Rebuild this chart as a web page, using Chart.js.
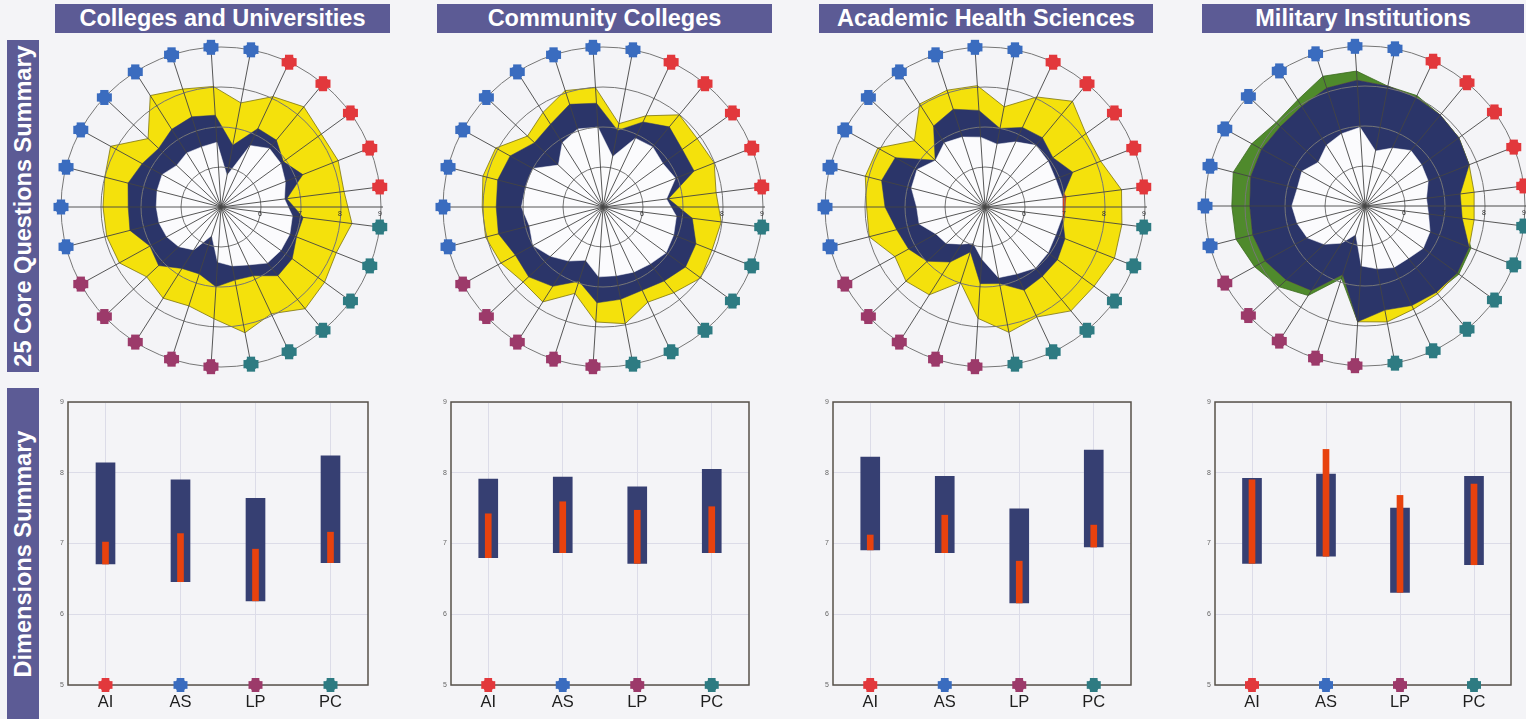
<!DOCTYPE html>
<html>
<head>
<meta charset="utf-8">
<script src="https://cdn.jsdelivr.net/npm/chart.js@4.4.1/dist/chart.umd.min.js"></script>
<style>
  body { margin:0; width:1526px; height:719px; background:#f4f4f7; position:relative; overflow:hidden;
         font-family:"Liberation Sans", Arial, sans-serif; }
  .hdr { position:absolute; top:4px; height:29px; background:#5c5b95; color:#fff; font-weight:bold;
         font-size:23.5px; display:flex; align-items:center; justify-content:center; white-space:nowrap; }
  .side { position:absolute; left:7px; width:32px; background:#5c5b95; color:#fff; font-weight:bold; font-size:23.5px; }
  .side span { position:absolute; left:50%; top:50%; transform:translate(-50%,-50%) rotate(-90deg); white-space:nowrap; }
  canvas { position:absolute; }
</style>
</head>
<body>
<div class="side" style="top:40px;height:332px"><span>25 Core Questions Summary</span></div>
<div class="side" style="top:388px;height:331px"><span>Dimensions Summary</span></div>

<script>
// ---- groups and item categories ----
const groups = ['Colleges and Universities', 'Community Colleges', 'Academic Health Sciences', 'Military Institutions'];
const itemLabels = ['AS-1','AS-2','AS-3','AS-4','AS-5','AS-6','AS-7','AS-8','AS-9',
                    'AI-1','AI-2','AI-3','AI-4','AI-5',
                    'PC-1','PC-2','PC-3','PC-4','PC-5','PC-6',
                    'LP-1','LP-2','LP-3','LP-4','LP-5'];
const itemDims = ['AS','AS','AS','AS','AS','AS','AS','AS','AS',
                  'AI','AI','AI','AI','AI',
                  'PC','PC','PC','PC','PC','PC',
                  'LP','LP','LP','LP','LP'];
const dimensions = ['AI', 'AS', 'LP', 'PC'];
const scaleTicks = [5, 6, 7, 8, 9];

// ---- 25 core questions: minimum / desired / perceived means ----
const cuMinimum   = [6.6,6.62,6.65,6.68,6.52,6.6,6.58,6.62,5.8, 6.7,6.9,6.85,6.73,6.6, 6.8,6.85,6.85,6.82,6.6,6.5, 6.38,5.75,6.27,6.45,6.55];
const cuDesired   = [7.95,7.95,8.0,8.15,7.5,8.3,8.1,8.02,7.65, 8.05,8.25,8.1,8.15,8.1, 8.3,8.1,8.2,8.3,7.95,8.2, 7.8,7.6,7.7,7.55,7.9];
const cuPerceived = [7.35,7.32,7.4,7.25,7.14,7.3,7.37,7.3,6.57, 7.17,7.17,6.93,7.2,6.66, 7.07,7.03,7.2,7.23,6.9,6.86, 7.0,6.76,6.82,7.14,7.03];

const ccMinimum   = [6.9,7.04,7.0,7.0,6.53,6.9,7.05,7.0,6.28, 6.9,6.95,6.85,6.95,6.6, 6.85,6.9,6.95,6.85,6.8,6.75, 6.75,6.4,6.6,6.8,7.0];
const ccDesired   = [8.03,8.02,8.1,8.06,7.59,7.8,8.06,7.99,7.12, 7.52,7.99,7.91,7.99,7.85, 7.98,7.93,8.02,7.78,7.63,7.97, 7.88,7.27,7.81,7.74,7.91];
const ccPerceived = [7.7,7.67,7.72,7.65,7.35,7.45,7.7,7.6,6.95, 7.35,7.6,7.45,7.45,6.65, 7.25,7.5,7.55,7.4,7.3,7.35, 7.4,6.95,7.35,7.55,7.5];

const ahsMinimum   = [6.7,6.71,6.9,6.94,6.7,6.9,6.84,6.75,6.6, 6.8,7.0,6.95,6.9,7.05, 7.0,6.9,6.95,6.98,6.85,6.8, 6.3,5.95,6.1,6.33,6.4];
const ahsDesired   = [7.99,7.96,8.09,8.06,7.42,8.05,8.07,8.04,7.55, 8.04,8.43,8.12,8.11,8.44, 8.45,8.48,8.37,8.37,8.04,8.19, 7.79,6.98,7.6,7.71,7.57];
const ahsPerceived = [7.28,7.5,7.67,7.56,6.71,7.4,7.57,7.42,7.0, 7.2,7.25,7.1,7.36,6.95, 6.95,7.15,7.24,7.25,7.3,6.95, 6.92,6.18,6.63,6.98,7.18];

const milMinimum   = [6.75,6.83,6.75,6.8,6.6,6.8,6.9,6.97,6.4, 6.6,6.8,6.75,6.7,6.55, 6.6,6.75,6.8,6.7,6.7,6.6, 6.5,5.75,6.1,6.4,6.65];
const milDesired   = [7.9,7.88,7.95,7.95,7.9,7.95,8.1,8.15,8.05, 8.0,7.95,7.9,7.8,7.75, 7.75,7.8,7.85,7.85,7.85,7.95, 7.9,6.8,7.5,7.7,7.85];
const milPerceived = [8.33,8.33,8.4,8.23,8.05,8.14,8.41,8.38,8.05, 8.05,7.95,7.9,7.8,7.4, 7.45,7.85,7.9,7.8,7.75,7.65, 7.9,6.9,7.65,7.95,8.15];

// ---- dimension summaries (AI, AS, LP, PC) ----
const cuDimMinimum    = [6.71, 6.46, 6.19, 6.73];
const cuDimDesired    = [8.14, 7.90, 7.64, 8.24];
const cuDimPerceived  = [7.02, 7.14, 6.92, 7.16];

const ccDimMinimum    = [6.80, 6.87, 6.72, 6.87];
const ccDimDesired    = [7.91, 7.94, 7.80, 8.05];
const ccDimPerceived  = [7.42, 7.59, 7.47, 7.52];

const ahsDimMinimum   = [6.91, 6.87, 6.16, 6.95];
const ahsDimDesired   = [8.22, 7.95, 7.49, 8.32];
const ahsDimPerceived = [7.12, 7.40, 6.75, 7.26];

const milDimMinimum   = [6.72, 6.82, 6.31, 6.70];
const milDimDesired   = [7.92, 7.98, 7.50, 7.95];
const milDimPerceived = [7.90, 8.33, 7.68, 7.84];

// ---- styling ----
const dimColor = { AI:'#e2383c', AS:'#3a6cbf', LP:'#9c3a6a', PC:'#2e7b82' };
const C = { yellow:'#f4e10c', navy:'#2b3569', green:'#4f8a2c', red:'#d8431a', core:'#fbfbfd',
            barNavy:'#363f72', barRed:'#e8420e' };

// page positions
const headerBoxes = [[55,335],[437,335],[819,334],[1202,322]];
const radarCenters = [[221,206.5],[603,206.5],[985,206.5],[1365,205.5]];
const dimPlots = [[68,300],[451,298],[833,298],[1215,296]];

headerBoxes.forEach(([x,w], i) => {
  const d = document.createElement('div');
  d.className = 'hdr';
  d.style.left = x + 'px'; d.style.width = w + 'px';
  d.textContent = groups[i];
  document.body.appendChild(d);
});

function makeCanvas(left, top, w, h) {
  const c = document.createElement('canvas');
  c.width = w; c.height = h;
  c.style.left = left + 'px'; c.style.top = top + 'px';
  c.style.width = w + 'px'; c.style.height = h + 'px';
  document.body.appendChild(c);
  return c;
}

// rounded cross used for category markers
function crossMarker(ctx, x, y, color, r) {
  ctx.fillStyle = color;
  const t = r * 0.55;
  ctx.fillRect(x - r, y - t, 2 * r, 2 * t);
  ctx.fillRect(x - t, y - r, 2 * t, 2 * r);
  ctx.beginPath(); ctx.arc(x, y, r * 0.86, 0, Math.PI * 2); ctx.fill();
}

// coloured category markers around the outer ring
const ringMarkers = {
  id: 'ringMarkers',
  afterDraw(chart) {
    const s = chart.scales.r, ctx = chart.ctx;
    ctx.save();
    itemDims.forEach((dim, i) => {
      const p = s.getPointPositionForValue(i, s.max);
      crossMarker(ctx, p.x, p.y, dimColor[dim], 7.5);
    });
    ctx.restore();
  }
};

// value axis along the 3 o'clock direction
const radialAxis = {
  id: 'radialAxis',
  afterDraw(chart) {
    const s = chart.scales.r, ctx = chart.ctx;
    ctx.save();
    ctx.strokeStyle = '#4a4a4a'; ctx.lineWidth = 1;
    ctx.beginPath();
    ctx.moveTo(s.xCenter, s.yCenter);
    ctx.lineTo(s.xCenter + s.getDistanceFromCenterForValue(s.max) + 2, s.yCenter);
    ctx.stroke();
    ctx.fillStyle = '#333'; ctx.font = '7px "Liberation Sans", Arial';
    ctx.textAlign = 'center'; ctx.textBaseline = 'top';
    scaleTicks.slice(1).forEach(v => {
      ctx.fillText(String(v), s.xCenter + s.getDistanceFromCenterForValue(v) - 1, s.yCenter + 4);
    });
    ctx.restore();
  }
};

function radarChart(idx, minimum, desired, perceived) {
  const [cx, cy] = radarCenters[idx];
  const size = 344;
  const canvas = makeCanvas(Math.round(cx - size / 2), Math.round(cy - size / 2), size, size);
  const blueTop  = perceived.map((p, i) => Math.min(p, desired[i]));
  const whiteTop = minimum.map((m, i) => Math.min(m, perceived[i]));
  new Chart(canvas, {
    type: 'radar',
    data: {
      labels: itemLabels,
      datasets: [
        { label: 'Perceived above desired', data: perceived, backgroundColor: C.green, borderColor: '#3b6a1e', borderWidth: 0.8, fill: 'start', order: 5 },
        { label: 'Desired', data: desired, backgroundColor: C.yellow, borderColor: '#7c7310', borderWidth: 0.8, fill: 'start', order: 4 },
        { label: 'Perceived below minimum', data: minimum, backgroundColor: C.red, borderWidth: 0, fill: 'start', order: 3 },
        { label: 'Perceived', data: blueTop, backgroundColor: C.navy, borderColor: C.navy, borderWidth: 0.5, fill: 'start', order: 2 },
        { label: 'Minimum', data: whiteTop, backgroundColor: C.core, borderColor: C.core, borderWidth: 0.5, fill: 'start', order: 1 }
      ]
    },
    options: {
      responsive: false, animation: false, devicePixelRatio: 1,
      layout: { padding: 12 },
      elements: { point: { radius: 0 }, line: { tension: 0 } },
      plugins: { legend: { display: false }, tooltip: { enabled: false } },
      scales: {
        r: {
          min: 5, max: 9, startAngle: 255.6,
          ticks: { display: false, stepSize: 1 },
          pointLabels: { display: false },
          grid: { circular: true, color: '#767676', lineWidth: 1, z: 1 },
          angleLines: { color: '#444', lineWidth: 0.9 }
        }
      }
    },
    plugins: [radialAxis, ringMarkers]
  });
}

// plot frame for the dimension charts
const plotFrame = {
  id: 'plotFrame',
  beforeDatasetsDraw(chart) {
    const a = chart.chartArea, ctx = chart.ctx;
    ctx.save();
    ctx.strokeStyle = '#57514a'; ctx.lineWidth = 1.5;
    ctx.strokeRect(a.left, a.top, a.right - a.left, a.bottom - a.top);
    ctx.restore();
  }
};
// dimension markers on the base line
const baseMarkers = {
  id: 'baseMarkers',
  afterDraw(chart) {
    const x = chart.scales.x, y = chart.scales.y, ctx = chart.ctx;
    ctx.save();
    dimensions.forEach((d, i) => {
      crossMarker(ctx, x.getPixelForValue(i), y.getPixelForValue(y.min), dimColor[d], 7);
    });
    ctx.restore();
  }
};

function dimChart(idx, minimum, desired, perceived) {
  const [plotLeft, plotWidth] = dimPlots[idx];
  const yAxisW = 23, padTop = 10, xAxisH = 34, padRight = 4;
  const top = 392, h = 719 - top;
  const canvas = makeCanvas(plotLeft - yAxisW, top, yAxisW + plotWidth + padRight, h);
  new Chart(canvas, {
    type: 'bar',
    data: {
      labels: dimensions,
      datasets: [
        { label: 'Minimum to perceived', data: perceived.map((p, i) => [minimum[i], p]), backgroundColor: C.barRed, barThickness: 6, order: 1 },
        { label: 'Minimum to desired', data: desired.map((d, i) => [minimum[i], d]), backgroundColor: C.barNavy, barThickness: 19, order: 2 }
      ]
    },
    options: {
      responsive: false, animation: false, devicePixelRatio: 1,
      layout: { padding: { top: padTop, right: padRight, left: 0, bottom: 0 } },
      datasets: { bar: { grouped: false } },
      plugins: { legend: { display: false }, tooltip: { enabled: false } },
      scales: {
        x: {
          grid: { offset: false, color: '#dcdce8', drawTicks: false },
          border: { display: false },
          ticks: { color: '#1e1e1e', font: { size: 16.5, family: '"Liberation Sans", Arial' }, padding: 8 },
          afterFit(s) { s.height = xAxisH; }
        },
        y: {
          min: scaleTicks[0], max: scaleTicks[scaleTicks.length - 1],
          grid: { color: '#dcdce8', drawTicks: false },
          border: { display: false },
          ticks: { stepSize: 1, color: '#666', font: { size: 7 }, padding: 4 },
          afterFit(s) { s.width = yAxisW; }
        }
      }
    },
    plugins: [plotFrame, baseMarkers]
  });
}

radarChart(0, cuMinimum, cuDesired, cuPerceived);
radarChart(1, ccMinimum, ccDesired, ccPerceived);
radarChart(2, ahsMinimum, ahsDesired, ahsPerceived);
radarChart(3, milMinimum, milDesired, milPerceived);

dimChart(0, cuDimMinimum, cuDimDesired, cuDimPerceived);
dimChart(1, ccDimMinimum, ccDimDesired, ccDimPerceived);
dimChart(2, ahsDimMinimum, ahsDimDesired, ahsDimPerceived);
dimChart(3, milDimMinimum, milDimDesired, milDimPerceived);
</script>
</body>
</html>
